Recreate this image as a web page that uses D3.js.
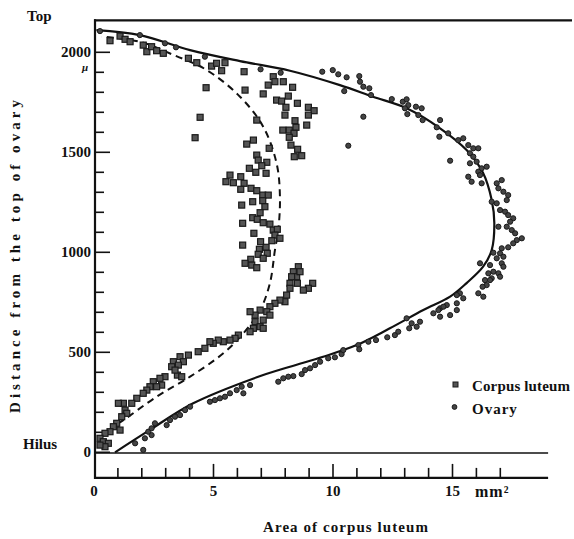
<!DOCTYPE html>
<html><head><meta charset="utf-8">
<script src="https://cdn.jsdelivr.net/npm/d3@7"></script>
<style>
html,body{margin:0;padding:0;background:#fff;}
svg{display:block;}
text{font-family:"Liberation Serif","DejaVu Serif",serif;font-weight:bold;fill:#111;}
</style></head>
<body>
<svg id="chart" width="574" height="539"></svg>
<script>
// ---------- data ----------
const xTickValues = d3.range(1, 18);
const xMajorTicks = [5, 10, 15];
const xTickLabels = [0, 5, 10, 15];
const yTickValues = d3.range(0, 2001, 100);
const yMajorTicks = [0, 500, 1000, 1500, 2000];
const yTickLabels = [0, 500, 1000, 1500, 2000];
const topValue = 2160;      // "Top" line
const axisBottomValue = -128;

// Corpus luteum (squares): [area mm2, distance μ]
const corpusLuteum = [
[0.67,2058],[1.09,2081],[1.30,2065],[1.51,2053],[2.06,2036],[2.21,2003],[2.41,2028],[2.62,2008],[2.90,1995],[3.95,1970],[4.30,1948],[4.92,1931],[5.13,1945],[5.34,1908],[5.48,1948],[6.28,1903],[4.69,1823],[6.32,1811],[7.08,1792],[7.29,1836],[4.44,1675],[6.81,1661],[4.23,1573],[7.50,1878],[7.57,1853],[7.92,1853],[8.31,1825],[7.64,1761],[7.85,1756],[8.13,1781],[8.51,1745],[8.03,1725],[7.99,1686],[8.97,1725],[9.21,1708],[8.97,1686],[8.90,1636],[8.41,1658],[8.45,1625],[7.90,1611],[8.17,1611],[8.37,1595],[8.17,1575],[6.67,1561],[6.39,1541],[7.33,1520],[8.24,1536],[8.52,1515],[8.69,1483],[8.38,1478],[6.81,1486],[6.87,1461],[7.23,1450],[7.02,1433],[6.50,1420],[6.77,1400],[7.20,1395],[5.69,1386],[6.14,1378],[5.52,1353],[5.83,1348],[6.28,1345],[6.14,1315],[6.57,1320],[6.81,1308],[7.06,1286],[7.29,1286],[7.06,1258],[7.15,1228],[6.64,1253],[6.18,1236],[6.95,1198],[6.64,1173],[6.83,1165],[7.08,1148],[7.36,1141],[6.22,1145],[7.50,1111],[7.67,1115],[7.57,1086],[7.78,1070],[7.44,1058],[6.69,1095],[6.97,1053],[7.20,1025],[6.92,1015],[6.87,990],[7.25,995],[7.08,970],[6.22,1036],[6.56,965],[6.32,945],[6.60,936],[6.81,923],[8.55,928],[8.34,903],[8.48,878],[8.62,903],[8.27,878],[8.20,845],[8.51,845],[9.15,845],[8.97,820],[8.76,811],[8.20,820],[8.06,786],[7.99,753],[7.78,761],[7.57,745],[7.36,728],[7.23,703],[7.36,686],[6.95,711],[6.74,686],[6.53,703],[6.74,653],[7.08,661],[6.95,628],[6.67,620],[7.08,620],[6.53,603],[6.04,586],[5.90,570],[5.69,561],[5.41,553],[5.20,561],[4.99,545],[4.85,553],[4.64,520],[4.36,503],[3.95,486],[3.60,478],[3.74,453],[3.32,453],[3.53,436],[3.25,428],[3.49,386],[3.67,378],[3.39,411],[2.97,378],[2.76,370],[2.48,353],[2.83,336],[2.62,328],[2.34,328],[2.21,311],[2.06,295],[1.79,270],[1.58,245],[1.23,245],[1.02,245],[1.30,211],[1.37,195],[1.16,178],[0.95,145],[0.81,128],[1.09,111],[0.67,103],[0.46,95],[0.25,70],[0.39,53],[0.60,45],[0.46,28],[0.25,36]
];

// Ovary (circles): [area mm2, distance μ]
const ovary = [
[0.25,2106],[1.92,2086],[2.97,2045],[3.43,2025],[4.64,1978],[6.97,1915],[7.81,1898],[9.55,1903],[9.99,1911],[10.22,1890],[10.57,1875],[10.47,1806],[11.10,1881],[11.13,1853],[11.27,1828],[11.52,1820],[11.59,1786],[11.27,1678],[10.64,1533],[12.46,1766],[12.92,1753],[13.08,1765],[13.15,1736],[13.01,1720],[13.11,1691],[13.47,1728],[13.71,1720],[13.57,1686],[13.75,1661],[14.34,1625],[14.45,1578],[14.48,1661],[14.82,1595],[15.24,1561],[15.45,1570],[15.66,1536],[15.87,1520],[16.08,1520],[15.73,1495],[15.87,1478],[15.73,1445],[16.01,1453],[16.22,1420],[16.43,1428],[16.08,1403],[15.66,1378],[15.80,1353],[16.15,1386],[16.22,1345],[14.90,1458],[16.85,1345],[17.06,1361],[16.92,1320],[17.13,1303],[17.33,1286],[17.27,1261],[16.64,1253],[16.85,1245],[16.99,1211],[17.20,1203],[17.33,1186],[17.54,1170],[17.41,1153],[16.92,1128],[17.27,1128],[17.48,1111],[17.62,1095],[17.90,1070],[17.69,1061],[17.54,1045],[17.33,1025],[17.06,1020],[16.99,995],[16.71,998],[17.13,978],[16.85,970],[17.06,945],[17.13,928],[16.57,936],[16.71,903],[16.92,895],[16.50,895],[16.99,878],[16.64,870],[16.36,861],[16.43,836],[16.26,828],[16.08,795],[16.29,778],[16.15,945],[15.31,795],[15.45,770],[15.18,745],[15.18,711],[14.76,736],[14.48,720],[14.20,695],[14.48,678],[14.90,686],[13.08,670],[13.29,645],[13.50,628],[13.64,653],[15.18,786],[16.57,861],[8.34,381],[8.69,391],[8.83,411],[9.04,420],[9.25,436],[9.46,453],[9.80,470],[10.08,475],[10.36,491],[10.43,511],[11.06,536],[11.10,515],[11.48,553],[11.80,561],[12.27,575],[12.59,586],[12.73,603],[13.19,620],[14.41,711],[14.62,728],[2.06,12],[1.72,45],[2.13,70],[2.41,86],[2.27,103],[2.55,145],[2.41,120],[3.04,136],[3.18,161],[3.39,178],[3.60,186],[3.81,211],[4.02,228],[4.85,253],[5.06,261],[5.27,270],[5.48,278],[5.69,295],[5.97,311],[6.18,328],[6.25,295],[6.53,336],[7.71,353],[7.92,370],[8.13,378]
];

// fitted curves
const ovaryCurve = [
[0.88,0],[2.34,112],[4.15,245],[6.81,375],[8.20,428],[9.59,478],[10.99,536],[12.38,620],[13.78,711],[14.90,778],[15.59,846],[16.28,928],[16.64,1011],[16.75,1146],[16.64,1261],[16.28,1396],[15.59,1511],[14.48,1620],[13.08,1720],[11.67,1778],[10.29,1836],[8.20,1908],[6.11,1956],[4.02,2011],[1.92,2086],[0.1,2111]
];
const corpusCurve = [
[1.0,145],[1.23,161],[2.62,278],[4.02,378],[5.41,495],[6.25,595],[6.95,711],[7.36,845],[7.57,1011],[7.71,1111],[7.78,1278],[7.64,1445],[7.08,1628],[6.11,1778],[4.72,1911],[3.32,1987],[1.92,2053],[0.32,2078]
];

// ---------- chart ----------
const svg = d3.select("#chart");
const x = d3.scaleLinear().domain([0, 19]).range([94, 548.1]);
const y = d3.scaleLinear().domain([0, 2000]).range([452.3, 52.3]);
const ink = "#111";

// frame lines
svg.append("line").attr("x1", x(0)).attr("x2", 572).attr("y1", y(topValue)).attr("y2", y(topValue))
  .attr("stroke", ink).attr("stroke-width", 2.2);
svg.append("line").attr("x1", x(0)+1).attr("x2", x(0)+1).attr("y1", y(topValue)-1).attr("y2", y(axisBottomValue)+1)
  .attr("stroke", ink).attr("stroke-width", 2.2);
svg.append("line").attr("x1", x(0)).attr("x2", x(19)).attr("y1", y(axisBottomValue)).attr("y2", y(axisBottomValue))
  .attr("stroke", ink).attr("stroke-width", 2.2);
// Hilus line
svg.append("line").attr("x1", x(0)).attr("x2", x(19)).attr("y1", y(0)+0.7).attr("y2", y(0)+0.7)
  .attr("stroke", ink).attr("stroke-width", 1.5);

// y ticks (pointing inward)
svg.append("g").selectAll("line").data(yTickValues).join("line")
  .attr("x1", x(0)+1).attr("x2", d => x(0) + 1 + (yMajorTicks.includes(d) ? 15 : 9))
  .attr("y1", d => y(d)).attr("y2", d => y(d))
  .attr("stroke", ink).attr("stroke-width", 1.6);
// x ticks (pointing up)
svg.append("g").selectAll("line").data(xTickValues).join("line")
  .attr("x1", d => x(d)).attr("x2", d => x(d))
  .attr("y1", y(axisBottomValue)).attr("y2", d => y(axisBottomValue) - (xMajorTicks.includes(d) ? 14 : 10))
  .attr("stroke", ink).attr("stroke-width", 1.6);

// tick labels
svg.append("g").selectAll("text").data(yTickLabels).join("text")
  .attr("x", 91).attr("y", d => y(d) + 5).attr("text-anchor", "end")
  .attr("font-size", 15).text(d => d);
svg.append("text").attr("x", 88).attr("y", y(2000) + 19).attr("text-anchor", "end")
  .attr("font-size", 11).attr("font-style", "italic").text("μ");
svg.append("g").selectAll("text").data(xTickLabels).join("text")
  .attr("x", d => x(d)).attr("y", 496).attr("text-anchor", "middle")
  .attr("font-size", 15).text(d => d);
svg.append("text").attr("x", 475).attr("y", 497).attr("font-size", 16)
  .attr("letter-spacing", 1).text("mm²");

svg.append("text").attr("x", 27).attr("y", 21).attr("font-size", 15).text("Top");
svg.append("text").attr("x", 23).attr("y", 449).attr("font-size", 15).text("Hilus");

// axis titles
svg.append("text").attr("x", 263).attr("y", 532).attr("font-size", 15)
  .attr("textLength", 165).attr("lengthAdjust", "spacing").text("Area of corpus luteum");
svg.append("text").attr("transform", "translate(20,413) rotate(-90)").attr("font-size", 15)
  .attr("textLength", 313).attr("lengthAdjust", "spacing").text("Distance from the top of ovary");

// curves
const line = d3.line().x(d => x(d[0])).y(d => y(d[1])).curve(d3.curveCatmullRom.alpha(0.5));
svg.append("path").attr("d", line(ovaryCurve)).attr("fill", "none")
  .attr("stroke", ink).attr("stroke-width", 2.2);
svg.append("path").attr("d", line(corpusCurve)).attr("fill", "none")
  .attr("stroke", ink).attr("stroke-width", 2).attr("stroke-dasharray", "7,5");

// points
svg.append("g").selectAll("rect").data(corpusLuteum).join("rect")
  .attr("x", d => x(d[0]) - 3).attr("y", d => y(d[1]) - 3)
  .attr("width", 6).attr("height", 6)
  .attr("fill", "#555").attr("stroke", "#1a1a1a").attr("stroke-width", 1.2);
svg.append("g").selectAll("circle").data(ovary).join("circle")
  .attr("cx", d => x(d[0])).attr("cy", d => y(d[1])).attr("r", 2.6)
  .attr("fill", "#444").attr("stroke", "#1a1a1a").attr("stroke-width", 1);

// legend
svg.append("rect").attr("x", 453).attr("y", 382).attr("width", 5).attr("height", 5)
  .attr("fill", "#555").attr("stroke", "#1a1a1a").attr("stroke-width", 1);
svg.append("circle").attr("cx", 454.5).attr("cy", 407).attr("r", 2.4)
  .attr("fill", "#444").attr("stroke", "#1a1a1a").attr("stroke-width", 1);
svg.append("text").attr("x", 472).attr("y", 391).attr("font-size", 15)
  .attr("textLength", 98).attr("lengthAdjust", "spacing").text("Corpus luteum");
svg.append("text").attr("x", 472).attr("y", 414).attr("font-size", 15)
  .attr("letter-spacing", 1).text("Ovary");
</script>
</body></html>
